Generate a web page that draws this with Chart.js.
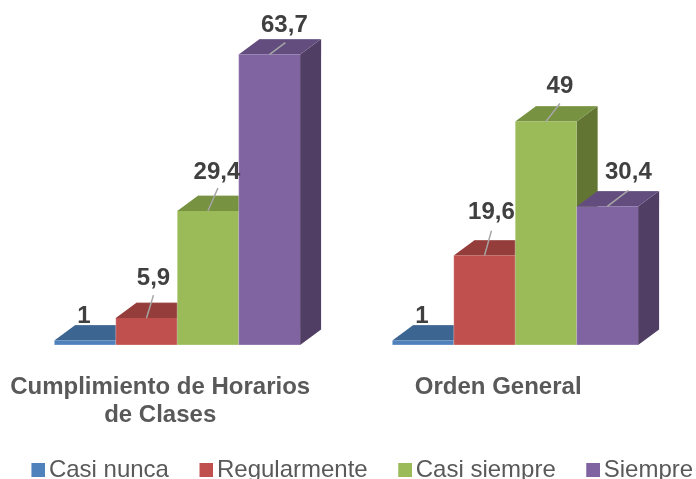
<!DOCTYPE html>
<html><head><meta charset="utf-8">
<style>html,body{margin:0;padding:0;background:#fff;overflow:hidden;height:479px;width:696px}canvas{display:block}</style>
<script src="https://cdn.jsdelivr.net/npm/chart.js@4"></script>
</head><body>
<canvas id="c" width="697" height="492"></canvas>
<script>
const categories = [['Cumplimiento de Horarios','de Clases'],'Orden General'];
const seriesNames = ['Casi nunca','Regularmente','Casi siempre','Siempre'];
const casiNunca = [1,1];
const regularmente = [5.9,19.6];
const casiSiempre = [29.4,49];
const siempre = [63.7,30.4];
const seriesValues = [casiNunca,regularmente,casiSiempre,siempre];
const valueLabels = [['1','1'],['5,9','19,6'],['29,4','49'],['63,7','30,4']];

const frontColors = ['#4F81BD','#C0504D','#9BBB59','#8064A2'];
const topColors   = ['#3D6591','#943D3A','#779240','#634D7F'];
const sideColors  = ['#33557B','#7C3330','#637533','#513E64'];
const labelOffsets = [
  [[-1,-24],[-1,-24]],
  [[7,-40],[7,-43]],
  [[9,-39],[14,-35]],
  [[15,-29],[21,-34]]
];
const leaderEnds = [
  [null,null],
  [[7,-23],[7,-25]],
  [[10,-23],[14,-18]],
  [[16,-12],[21,-16]]
];
const DEPTH_X = 21, DEPTH_Y = 15.5;

function swatch(color){
  const s = document.createElement('canvas');
  s.width = 50; s.height = 14;
  const g = s.getContext('2d');
  g.fillStyle = color; g.fillRect(36,0,14,14);
  return s;
}

const faces3d = {
  id:'faces3d',
  beforeDatasetsDraw(chart){
    const ctx = chart.ctx;
    ctx.save();
    seriesValues.forEach((_,i)=>{
      chart.getDatasetMeta(i).data.forEach(b=>{
        const hw = b.width/2, l=b.x-hw, r=b.x+hw, t=b.y, bt=b.base;
        ctx.fillStyle = sideColors[i];
        ctx.beginPath();
        ctx.moveTo(r,t);ctx.lineTo(r+DEPTH_X,t-DEPTH_Y);ctx.lineTo(r+DEPTH_X,bt-DEPTH_Y);ctx.lineTo(r,bt);ctx.closePath();ctx.fill();
        ctx.fillStyle = topColors[i];
        ctx.beginPath();
        ctx.moveTo(l,t);ctx.lineTo(l+DEPTH_X,t-DEPTH_Y);ctx.lineTo(r+DEPTH_X,t-DEPTH_Y);ctx.lineTo(r,t);ctx.closePath();ctx.fill();
        b.draw(ctx);
        ctx.strokeStyle='rgba(255,255,255,0.3)';ctx.lineWidth=1;
        ctx.beginPath();
        ctx.moveTo(l,t);ctx.lineTo(l,bt);ctx.lineTo(r,bt);
        ctx.moveTo(l+DEPTH_X,t-DEPTH_Y);ctx.lineTo(r+DEPTH_X,t-DEPTH_Y);
        ctx.stroke();
      });
    });
    ctx.restore();
  },
  beforeDatasetDraw(){ return false; },
  afterDatasetsDraw(chart){
    const ctx = chart.ctx;
    ctx.save();
    seriesValues.forEach((_,i)=>{
      chart.getDatasetMeta(i).data.forEach((b,j)=>{
        const le = leaderEnds[i][j], off = labelOffsets[i][j];
        if(le){
          ctx.strokeStyle='#A6A6A6';ctx.lineWidth=1.5;
          ctx.beginPath();ctx.moveTo(b.x,b.y);ctx.lineTo(b.x+le[0],b.y+le[1]);ctx.stroke();
        }
        ctx.fillStyle='#404040';
        ctx.font='bold 24px "Liberation Sans"';
        ctx.textAlign='center';ctx.textBaseline='middle';
        ctx.fillText(valueLabels[i][j],b.x+off[0],b.y+off[1]);
      });
    });
    ctx.restore();
  }
};

const hiddenAxis = {ticks:{display:false},grid:{display:false,drawTicks:false},border:{display:false}};

new Chart(document.getElementById('c'),{
  type:'bar',
  data:{
    labels:categories,
    datasets:seriesNames.map((n,i)=>({
      label:n,data:seriesValues[i],backgroundColor:frontColors[i],
      categoryPercentage:0.7272,barPercentage:1
    }))
  },
  options:{
    responsive:false,animation:false,
    layout:{padding:{left:0,right:0,top:25.8,bottom:0}},
    plugins:{
      tooltip:{enabled:false},
      legend:{
        position:'bottom',
        labels:{
          usePointStyle:true,pointStyleWidth:33,padding:3,color:'#595959',
          font:{family:'"Liberation Sans"',size:24},
          generateLabels(chart){
            return Chart.defaults.plugins.legend.labels.generateLabels(chart).map((it,i)=>{
              it.pointStyle = swatch(frontColors[i]);
              return it;
            });
          }
        }
      }
    },
    scales:{
      y:{...hiddenAxis,min:0,max:70,afterFit(s){s.width=8.2;}},
      yRight:{...hiddenAxis,position:'right',afterFit(s){s.width=12.8;}},
      x:{
        grid:{display:false,drawTicks:false},border:{display:false},
        ticks:{
          autoSkip:false,maxRotation:0,padding:28,labelOffset:-17,color:'#595959',
          font:{family:'"Liberation Sans"',size:24,weight:'bold',lineHeight:1.17}
        },
        afterFit(s){s.height=110;s.paddingLeft=0;s.paddingRight=0;}
      }
    }
  },
  plugins:[faces3d]
});
</script>
</body></html>
